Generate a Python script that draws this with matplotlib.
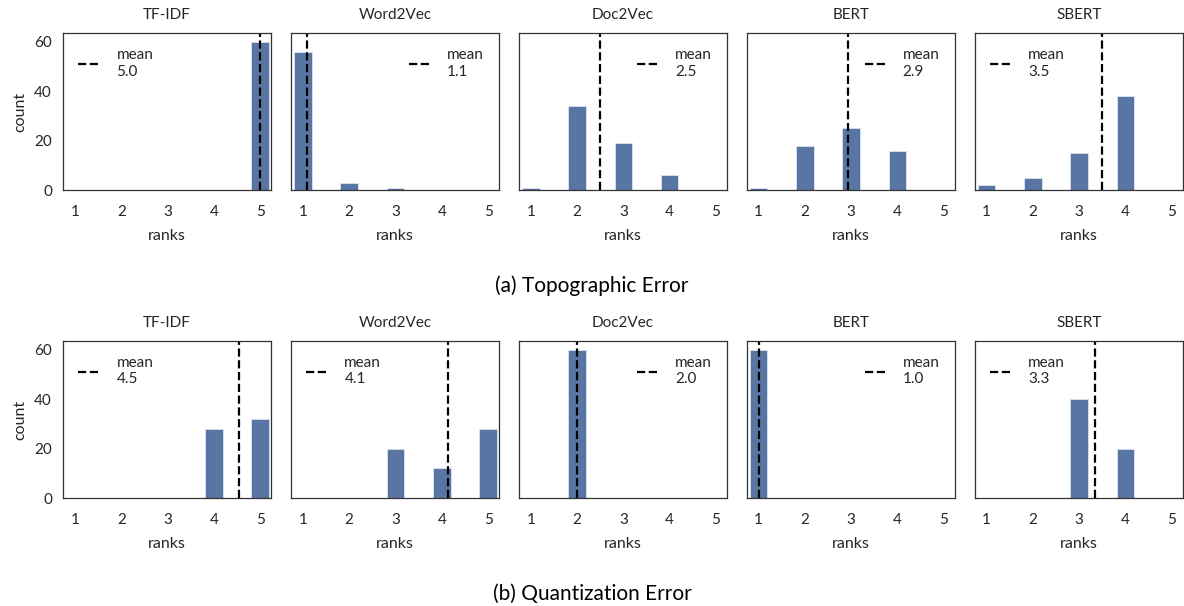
import numpy as np
import matplotlib.pyplot as plt
import seaborn as sns

sns.set_style("white")
plt.rcParams['font.family'] = ['Lato', 'DejaVu Sans']

models = ["TF-IDF", "Word2Vec", "Doc2Vec", "BERT", "SBERT"]
ranks = [1, 2, 3, 4, 5]

# counts per rank (1..5) for each model
topo_counts = [
    [0, 0, 0, 0, 60],
    [56, 3, 1, 0, 0],
    [1, 34, 19, 6, 0],
    [1, 18, 25, 16, 0],
    [2, 5, 15, 38, 0],
]
quant_counts = [
    [0, 0, 0, 28, 32],
    [0, 0, 20, 12, 28],
    [0, 60, 0, 0, 0],
    [60, 0, 0, 0, 0],
    [0, 0, 40, 20, 0],
]
topo_legend = ["upper left", "upper right", "upper right", "upper right", "upper left"]
quant_legend = ["upper left", "upper left", "upper right", "upper right", "upper left"]

bar_color = "#5975a4"
txt = "#262626"

fig, axes = plt.subplots(2, 5, figsize=(11.84, 6.06), dpi=100, sharey=True)
fig.subplots_adjust(left=0.0532, right=0.999, top=0.9455, bottom=0.178,
                    wspace=0.094, hspace=0.96)

for row, (counts_set, locs) in enumerate([(topo_counts, topo_legend),
                                          (quant_counts, quant_legend)]):
    for col, name in enumerate(models):
        ax = axes[row, col]
        counts = np.array(counts_set[col])
        ax.bar(ranks, counts, width=0.38, color=bar_color,
               edgecolor="#dde3ee", linewidth=0.6)
        mean = np.sum(counts * np.array(ranks)) / counts.sum()
        ax.axvline(mean, color="black", linestyle="--", linewidth=1.6,
                   label="mean\n%.1f" % mean)
        ax.set_xlim(0.74, 5.24)
        ax.set_ylim(0, 63.5)
        ax.set_xticks(ranks)
        ax.set_yticks([0, 20, 40, 60])
        ax.set_title(name, fontsize=11, color=txt, pad=10)
        ax.set_xlabel("ranks", fontsize=11.5, color=txt, labelpad=7)
        ax.tick_params(labelsize=11, colors=txt, length=0)
        ax.tick_params(axis="x", pad=11)
        ax.tick_params(axis="y", pad=8)
        for sp in ax.spines.values():
            sp.set_color("#333333")
            sp.set_linewidth(0.9)
        if col == 0:
            ax.set_ylabel("count", fontsize=11.5, color=txt, labelpad=5)
        else:
            ax.tick_params(labelleft=False)
        leg = ax.legend(loc=locs[col], frameon=False, fontsize=11,
                        handlelength=1.5, handletextpad=1.0,
                        borderaxespad=0.6)
        for t in leg.get_texts():
            t.set_color(txt)

fig.text(0.5, 0.528, "(a) Topographic Error", ha="center", va="center",
         fontsize=15, color="black")
fig.text(0.5, 0.02, "(b) Quantization Error", ha="center", va="center",
         fontsize=15, color="black")

fig.savefig("out.png", dpi=100)
